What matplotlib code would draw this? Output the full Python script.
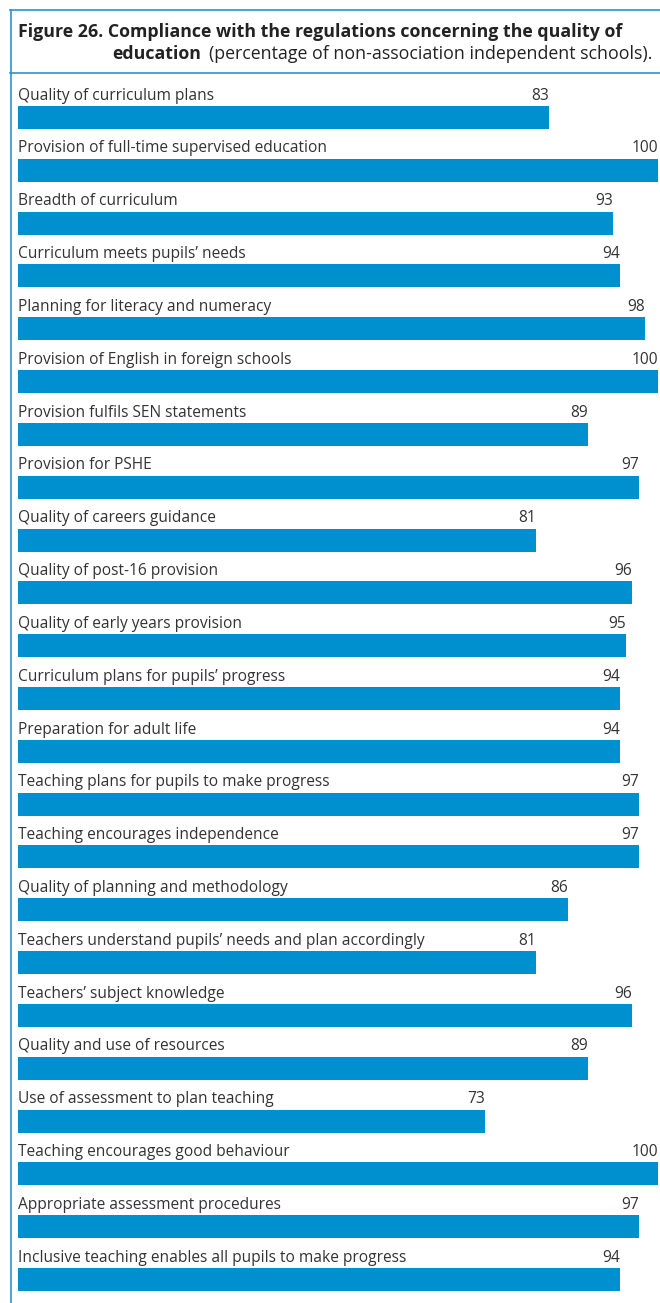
import matplotlib.pyplot as plt
from matplotlib.lines import Line2D

categories = [
    "Quality of curriculum plans",
    "Provision of full-time supervised education",
    "Breadth of curriculum",
    "Curriculum meets pupils\u2019 needs",
    "Planning for literacy and numeracy",
    "Provision of English in foreign schools",
    "Provision fulfils SEN statements",
    "Provision for PSHE",
    "Quality of careers guidance",
    "Quality of post-16 provision",
    "Quality of early years provision",
    "Curriculum plans for pupils\u2019 progress",
    "Preparation for adult life",
    "Teaching plans for pupils to make progress",
    "Teaching encourages independence",
    "Quality of planning and methodology",
    "Teachers understand pupils\u2019 needs and plan accordingly",
    "Teachers\u2019 subject knowledge",
    "Quality and use of resources",
    "Use of assessment to plan teaching",
    "Teaching encourages good behaviour",
    "Appropriate assessment procedures",
    "Inclusive teaching enables all pupils to make progress",
]
values = [83, 100, 93, 94, 98, 100, 89, 97, 81, 96, 95, 94, 94, 97, 97,
          86, 81, 96, 89, 73, 100, 97, 94]

W, H = 660, 1303
BAR = "#0090cf"
TEXT = "#333333"
LINE = "#2a93d1"
FONT = "Open Sans"

fig = plt.figure(figsize=(W / 100, H / 100), dpi=100)

# axes spans the bar area horizontally; rows are 52.82 px apart
pitch = 52.82
first = 117.5
ax = fig.add_axes([18 / W, 0, 640 / W, 1])
ax.set_xlim(0, 100)
ax.set_ylim((H - first) / pitch, -first / pitch)
ax.axis("off")

bh = 23 / pitch
ys = list(range(len(values)))
ax.barh(ys, values, height=bh, color=BAR, linewidth=0)
for y, cat, v in zip(ys, categories, values):
    ty = y - bh / 2 - 0.12
    ax.text(0, ty, cat, ha="left", va="baseline", fontsize=11.2,
            color=TEXT, family=FONT)
    ax.text(v, ty, str(v), ha="right", va="baseline", fontsize=11.2,
            color=TEXT, family=FONT)

# title block
fig.text(18 / W, 1 - 37 / H, "Figure 26. Compliance with the regulations concerning the quality of",
         ha="left", va="baseline", fontsize=12.8, fontweight="bold", color="#222222", family=FONT)
fig.text(112 / W, 1 - 59 / H, "education", ha="left", va="baseline", fontsize=12.8,
         fontweight="bold", color="#222222", family=FONT)
fig.text(652 / W, 1 - 59 / H, "(percentage of non-association independent schools).",
         ha="right", va="baseline", fontsize=12.8, color="#222222", family=FONT)

# frame lines
fig.add_artist(Line2D([10 / W, 1], [1 - 10 / H, 1 - 10 / H], color=LINE, lw=1.2))
fig.add_artist(Line2D([10 / W, 1], [1 - 73 / H, 1 - 73 / H], color=LINE, lw=1.2))
fig.add_artist(Line2D([11 / W, 11 / W], [0, 1 - 10 / H], color=LINE, lw=1.2))

fig.savefig("out.png", dpi=100, facecolor="white")
